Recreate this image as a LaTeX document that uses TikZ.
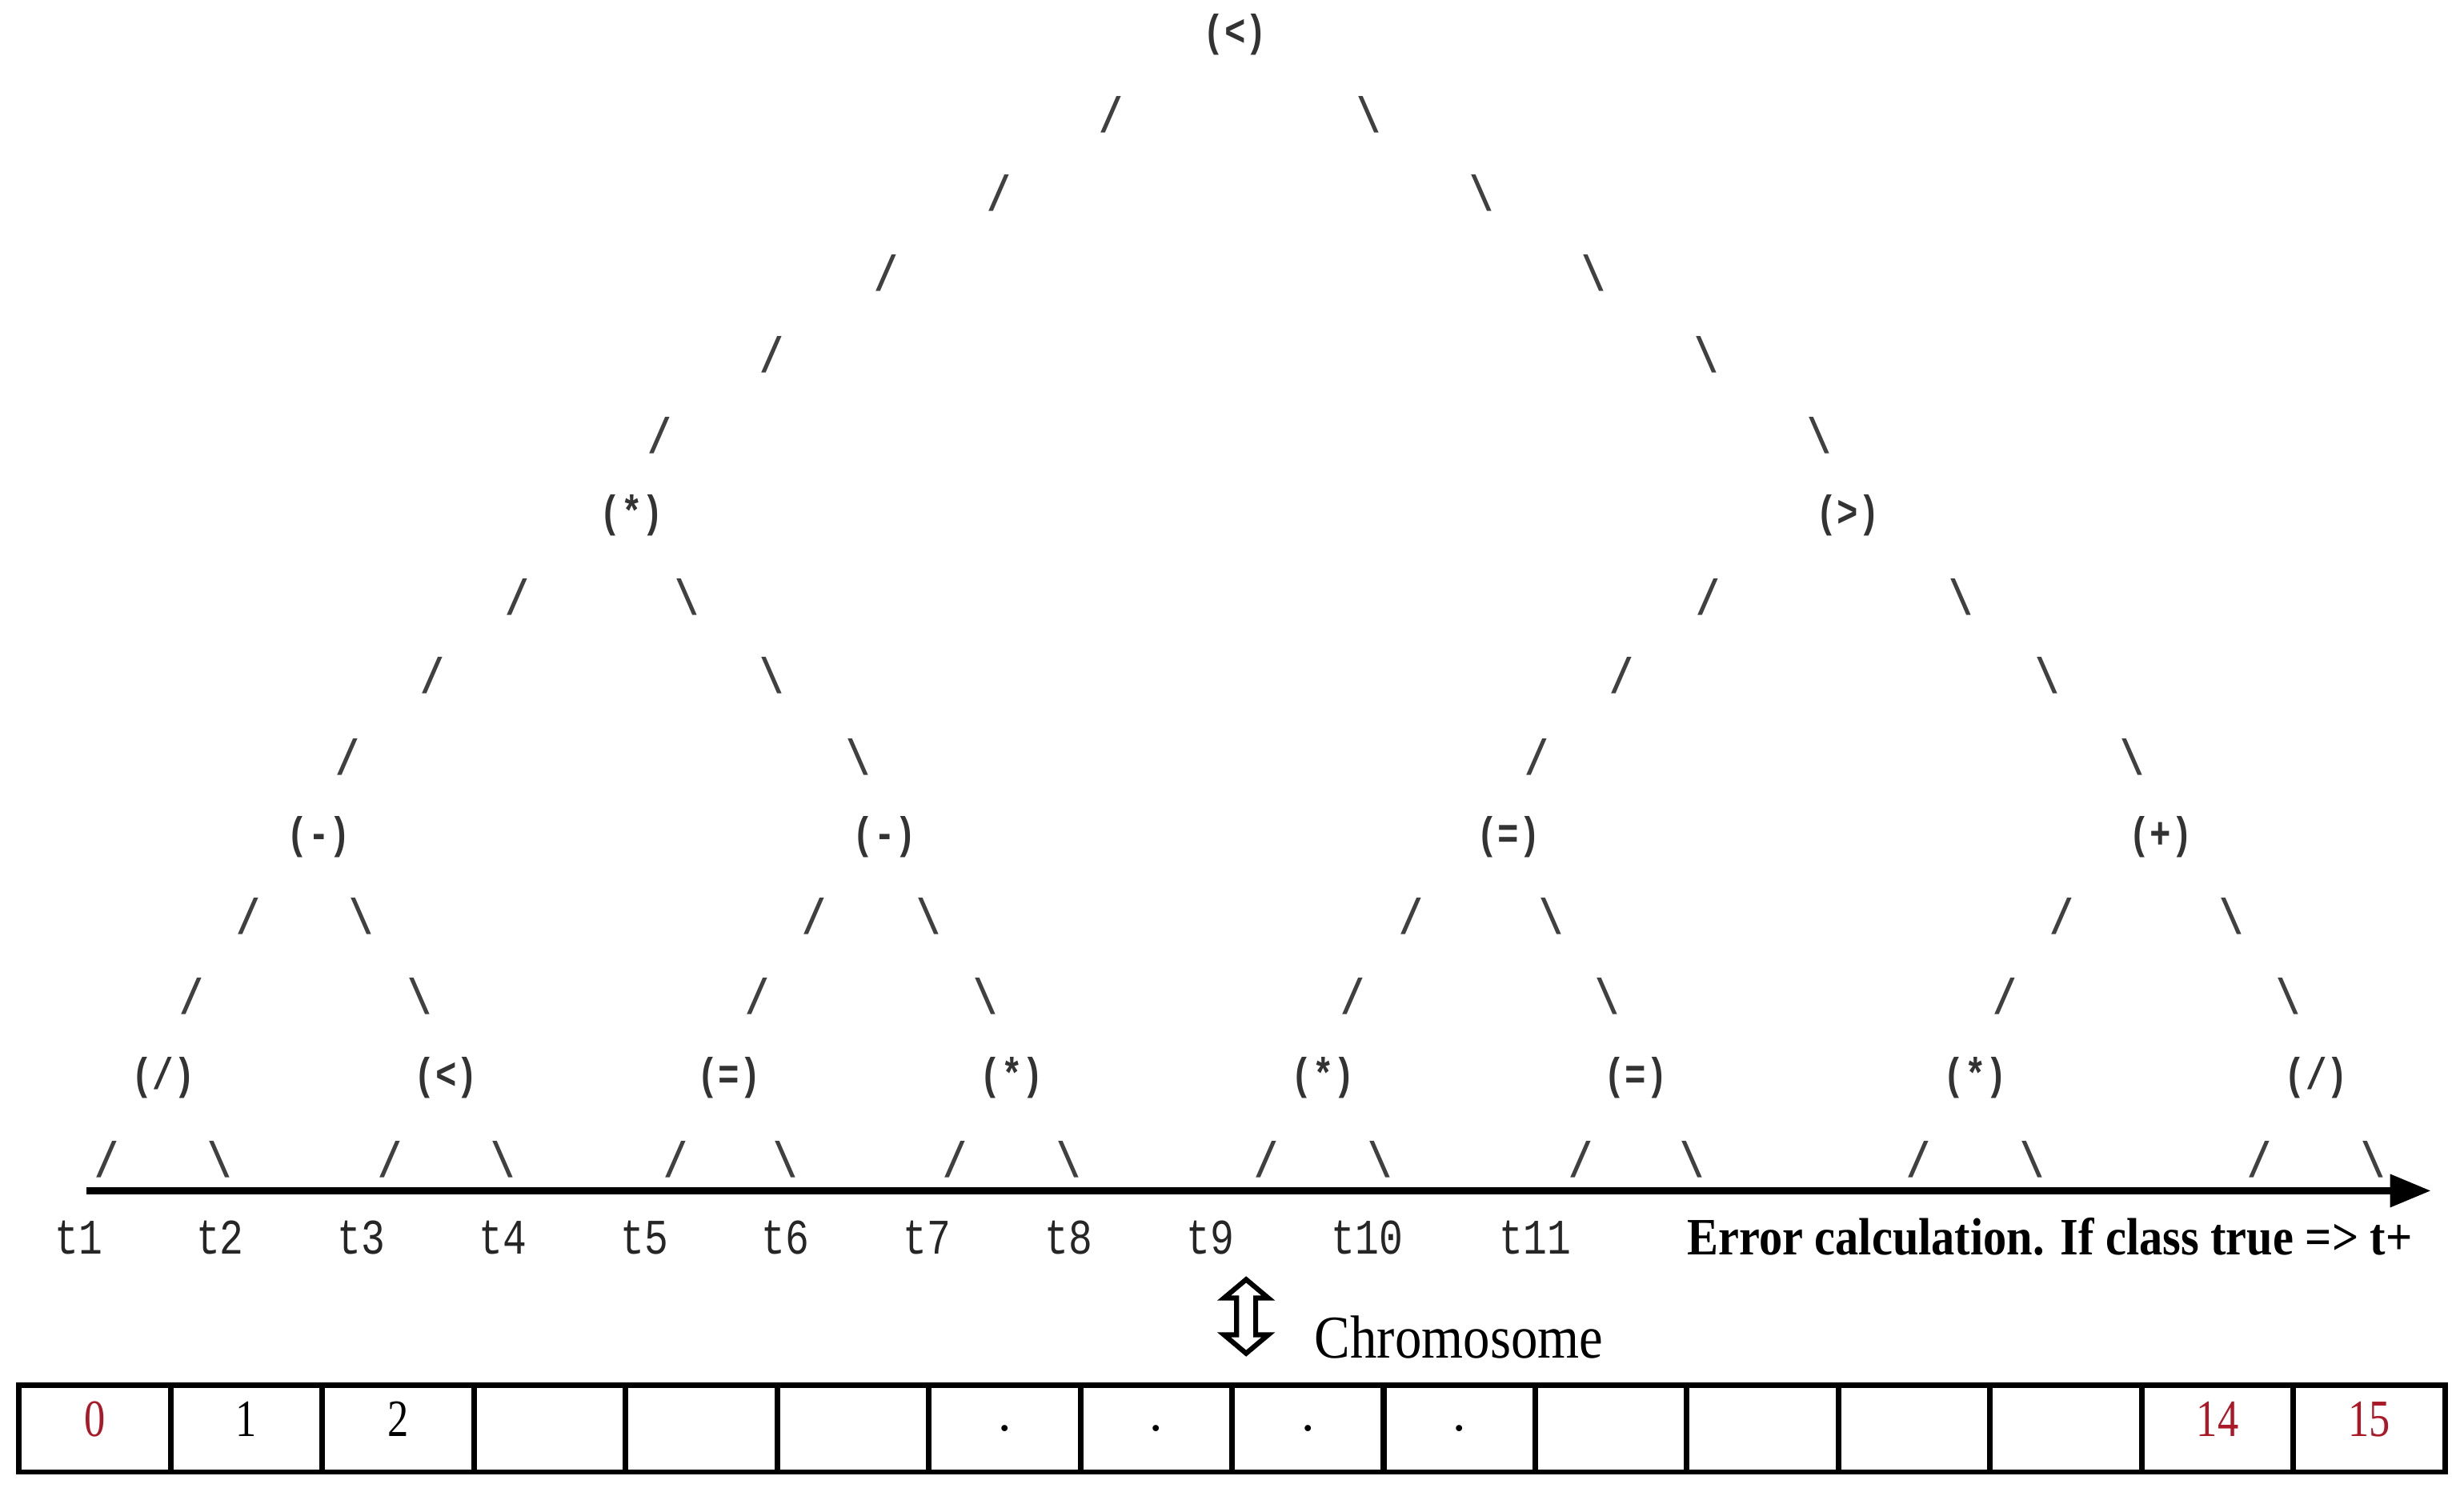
\documentclass[tikz,border=0pt]{standalone}
\usepackage{fontspec}
\usepackage{graphicx}
\setmainfont{Liberation Serif}
\setmonofont{Liberation Mono}
\usetikzlibrary{arrows.meta,shapes.arrows}
\definecolor{genered}{RGB}{170,25,40}
\newcommand{\squeeze}[1]{\scalebox{0.8}[1]{#1}}
\tikzset{
  op/.style={font=\ttfamily\bfseries\fontsize{8}{8}\selectfont, text=black!80, inner sep=0pt},
  branch/.style={font=\ttfamily\bfseries\fontsize{9}{9}\selectfont, text=black!75, inner sep=0pt},
  term/.style={font=\ttfamily\fontsize{9}{9}\selectfont, text=black!85, inner sep=0pt},
  gene/.style={draw, line width=1pt, minimum width=0.965cm, minimum height=0.55cm, inner sep=0pt, outer sep=0pt},
  digit/.style={font=\fontsize{9.5}{9.5}\selectfont, inner sep=0pt},
}

\begin{document}
\begin{tikzpicture}[x=0.01cm, y=-0.01cm]
  \useasboundingbox (0,0) rectangle (1568,952);

  % tree of operators
  \node[op] (root) at (786,22) {\squeeze{(<)}};
  \node[op] (a1) at (402,328) {\squeeze{(*)}};
  \node[op] (a2) at (1176,328) {\squeeze{(>)}};
  \node[op] (b1) at (203,533) {\squeeze{(-)}};
  \node[op] (b2) at (563,533) {\squeeze{(-)}};
  \node[op] (b3) at (960,533) {\squeeze{(=)}};
  \node[op] (b4) at (1375,533) {\squeeze{(+)}};
  \foreach \x/\o [count=\i] in {104/{/}, 284/<, 464/=, 644/*, 842/*, 1041/=, 1257/*, 1474/{/}}
    \node[op] (c\i) at (\x,686) {\squeeze{(\o)}};

  % branches, typed as slashes
  \foreach \x/\y [count=\i] in {707/73, 636/123, 564/174, 491/226, 420/277,
      329/380, 275/430, 221/482, 1087/380, 1032/430, 978/482,
      158/583, 122/634, 518/583, 482/634, 898/583, 861/634, 1312/583, 1276/634,
      68/738, 248/738, 430/738, 608/738, 806/738, 1006/738, 1221/738, 1438/738}
    \node[branch] (fw\i) at (\x,\y) {\squeeze{/}};
  \foreach \x/\y [count=\i] in {871/73, 943/123, 1014/174, 1086/226, 1158/277,
      437/380, 491/430, 546/482, 1248/380, 1303/430, 1357/482,
      230/583, 267/634, 591/583, 627/634, 987/583, 1023/634, 1420/583, 1456/634,
      140/738, 320/738, 500/738, 680/738, 878/738, 1077/738, 1293/738, 1510/738}
    \node[branch] (bw\i) at (\x,\y) {\squeeze{\textbackslash}};

  % terminals and error line
  \coordinate (axs) at (55,758);
  \coordinate (axe) at (1547,758);
  \draw[line width=1.3pt, -{Triangle[length=0.26cm, width=0.2cm]}] (axs) -- (axe);
  \foreach \x [count=\i] in {50,140,230,320,410,500,590,680,770,870,977}
    \node[term] (t\i) at (\x,788) {\squeeze{t\i}};
  \node[anchor=west, font=\bfseries\fontsize{9.5}{9.5}\selectfont, inner sep=0pt] (err) at (1073,787)
    {\scalebox{0.89}[1]{Error calculation. If class true => t+}};

  % chromosome
  \node[double arrow, draw, line width=0.9pt, fill=white, rotate=90, inner sep=0.045cm,
    minimum height=0.47cm, double arrow head extend=0.08cm, double arrow tip angle=100] (swap) at (793,838) {};
  \node[anchor=west, font=\fontsize{11}{11}\selectfont, inner sep=0pt] (chrom) at (836,851)
    {\scalebox{0.88}[1]{Chromosome}};
  \foreach \i in {0,...,15}
    \node[gene] (gene\i) at ({60.25+96.5*\i},909.5) {};
  \foreach \i/\c in {0/genered, 1/black, 2/black, 14/genered, 15/genered}
    \node[digit, text=\c] (num\i) at ([yshift=0.06cm]gene\i.center) {\squeeze{\i}};
  \foreach \i in {6,...,9}
    \node[digit] (dot\i) at (gene\i.center) {.};
\end{tikzpicture}
\end{document}
